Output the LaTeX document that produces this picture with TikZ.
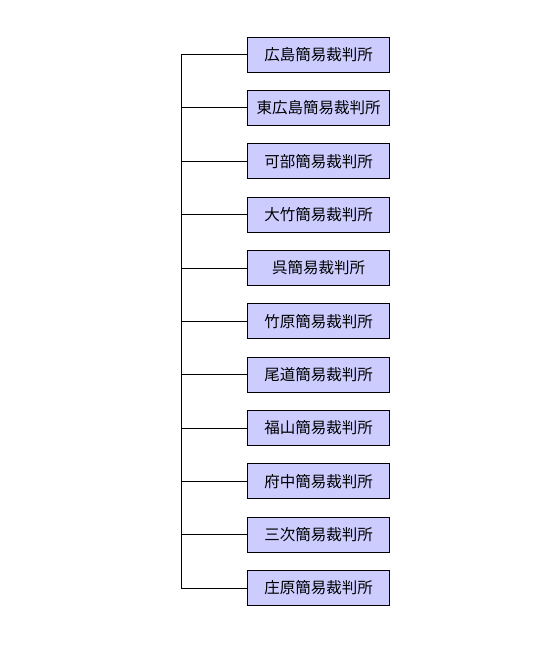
\documentclass[tikz,border=0pt]{standalone}
\usepackage{fontspec}
\setmainfont{Noto Sans CJK JP}
\usepackage{tikz}
\usetikzlibrary{calc,positioning}
\definecolor{courtfill}{RGB}{204,204,255}
\tikzstyle{court} = [rectangle, draw=black, fill=courtfill, line width=0.8pt,
                     minimum width=142pt, minimum height=35pt, inner sep=0pt,
                     text centered, font=\fontsize{15.5pt}{17pt}\selectfont]
\tikzstyle{branch} = [line width=0.8pt]

\begin{document}
\begin{tikzpicture}[x=1pt,y=-1pt,node distance=17.55pt]
		\useasboundingbox (0,0) rectangle (550,648);
		\node[court] (hiroshima) at (318.5,54.5) {広島簡易裁判所};
		\node[court,below=of hiroshima] (higashi) {東広島簡易裁判所};
		\node[court,below=of higashi] (kabe) {可部簡易裁判所};
		\node[court,below=of kabe] (otake) {大竹簡易裁判所};
		\node[court,below=of otake] (kure) {呉簡易裁判所};
		\node[court,below=of kure] (takehara) {竹原簡易裁判所};
		\node[court,below=of takehara] (onomichi) {尾道簡易裁判所};
		\node[court,below=of onomichi] (fukuyama) {福山簡易裁判所};
		\node[court,below=of fukuyama] (fuchu) {府中簡易裁判所};
		\node[court,below=of fuchu] (miyoshi) {三次簡易裁判所};
		\node[court,below=of miyoshi] (shobara) {庄原簡易裁判所};
		\coordinate (trunk) at ($(hiroshima.west)+(-65.5,0)$);
		\draw[branch] (hiroshima.west) -- (trunk) |- (shobara.west);
		\foreach \c in {higashi,kabe,otake,kure,takehara,onomichi,fukuyama,fuchu,miyoshi}
			\draw[branch] (\c.west) -- (\c.west -| trunk);
	\end{tikzpicture}
\end{document}
